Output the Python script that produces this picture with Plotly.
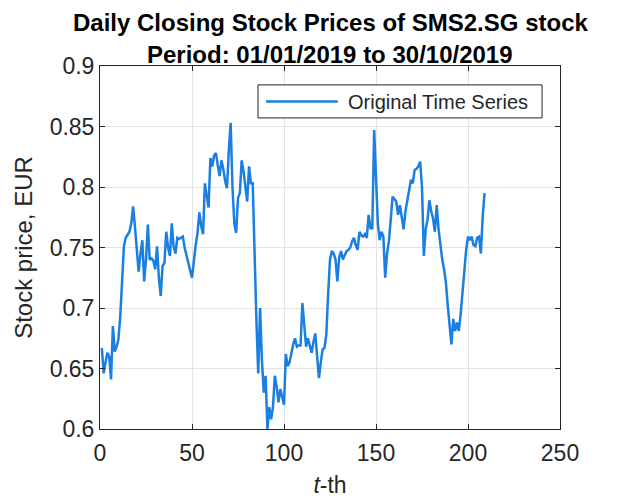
import plotly.graph_objects as go

# ---- data ----
t_index = list(range(1, 210))
prices = [
    0.667, 0.646, 0.655, 0.663, 0.660, 0.641, 0.685, 0.664, 0.668, 0.674,
    0.693, 0.726, 0.751, 0.758, 0.761, 0.763, 0.770, 0.784, 0.767, 0.748,
    0.730, 0.745, 0.756, 0.722, 0.740, 0.769, 0.740, 0.741, 0.739, 0.732,
    0.751, 0.725, 0.710, 0.735, 0.737, 0.763, 0.750, 0.743, 0.770, 0.751,
    0.745, 0.758, 0.757, 0.758, 0.759, 0.750, 0.743, 0.738, 0.731, 0.725,
    0.740, 0.752, 0.762, 0.779, 0.768, 0.761, 0.803, 0.792, 0.783, 0.824,
    0.817, 0.826, 0.828, 0.818, 0.809, 0.822, 0.815, 0.805, 0.799, 0.830,
    0.853, 0.800, 0.770, 0.762, 0.791, 0.795, 0.822, 0.813, 0.800, 0.788,
    0.817, 0.803, 0.803, 0.740, 0.690, 0.646, 0.700, 0.657, 0.630, 0.644,
    0.600, 0.618, 0.608, 0.618, 0.644, 0.635, 0.622, 0.633, 0.626, 0.620,
    0.662, 0.652, 0.655, 0.663, 0.670, 0.675, 0.668, 0.669, 0.669, 0.704,
    0.685, 0.668, 0.675, 0.670, 0.663, 0.672, 0.679, 0.660, 0.642, 0.655,
    0.666, 0.667, 0.678, 0.712, 0.740, 0.747, 0.745, 0.740, 0.722, 0.742,
    0.747, 0.740, 0.744, 0.747, 0.748, 0.750, 0.755, 0.758, 0.752, 0.748,
    0.763, 0.760, 0.759, 0.761, 0.758, 0.777, 0.766, 0.766, 0.847, 0.800,
    0.770, 0.756, 0.763, 0.759, 0.725, 0.745, 0.755, 0.773, 0.792, 0.790,
    0.788, 0.777, 0.785, 0.775, 0.765, 0.780, 0.790, 0.800, 0.806, 0.803,
    0.814, 0.815, 0.817, 0.821, 0.800, 0.743, 0.765, 0.773, 0.789, 0.780,
    0.774, 0.763, 0.785, 0.765, 0.750, 0.740, 0.732, 0.721, 0.702, 0.683,
    0.670, 0.691, 0.681, 0.688, 0.681, 0.695, 0.715, 0.734, 0.748, 0.759,
    0.756, 0.759, 0.752, 0.751, 0.758, 0.759, 0.745, 0.776, 0.795,
]

x_tick_vals = [0, 50, 100, 150, 200, 250]
x_tick_text = ["0", "50", "100", "150", "200", "250"]
y_tick_vals = [0.6, 0.65, 0.7, 0.75, 0.8, 0.85, 0.9]
y_tick_text = ["0.6", "0.65", "0.7", "0.75", "0.8", "0.85", "0.9"]

series_name = "Original Time Series"
title_line1 = "Daily Closing Stock Prices of SMS2.SG stock"
title_line2 = "Period: 01/01/2019 to 30/10/2019"

LINE_COLOR = "#1a7fe0"
AX_COLOR = "#262626"
FONT = "Liberation Sans, Arial, sans-serif"

fig = go.Figure()
fig.add_trace(go.Scatter(
    x=t_index, y=prices, mode="lines", name=series_name,
    line=dict(color=LINE_COLOR, width=2.5), showlegend=False,
))

axis_common = dict(
    showline=True, linecolor=AX_COLOR, linewidth=1, mirror="allticks",
    ticks="inside", ticklen=5, tickcolor=AX_COLOR, tickwidth=1,
    showgrid=True, gridcolor="#e3e3e3", gridwidth=1, zeroline=False,
    automargin=False,
    tickfont=dict(family=FONT, size=23, color=AX_COLOR),
)

# page body has an 8px margin, so the figure is shrunk/offset to keep the
# plot area at the reference position
fig.update_layout(
    width=609, height=491,
    margin=dict(l=92, r=57, t=58, b=70),
    paper_bgcolor="white", plot_bgcolor="white",
    font=dict(family=FONT, color=AX_COLOR),
    xaxis=dict(range=[0, 250], tickvals=x_tick_vals, ticktext=x_tick_text,
               ticklabelstandoff=3,
               title=dict(text="<i>t</i>-th", font=dict(family=FONT, size=23, color=AX_COLOR), standoff=12),
               **axis_common),
    yaxis=dict(range=[0.6, 0.9], tickvals=y_tick_vals, ticktext=y_tick_text,
               title=dict(text="Stock price, EUR", font=dict(family=FONT, size=24, color=AX_COLOR), standoff=10),
               **axis_common),
)

# titles
fig.add_annotation(text="<b>" + title_line1 + "</b>", xref="paper", yref="paper",
                   x=0.5, y=(429 - 22) / 363, xanchor="center", yanchor="middle",
                   showarrow=False, font=dict(family=FONT, size=24, color="black"))
fig.add_annotation(text="<b>" + title_line2 + "</b>", xref="paper", yref="paper",
                   x=0.5, y=(429 - 54) / 363, xanchor="center", yanchor="middle",
                   showarrow=False, font=dict(family=FONT, size=24, color="black"))

# legend box (MATLAB style)
fig.add_shape(type="rect", xref="paper", yref="paper",
              x0=0.3435, x1=0.961, y0=0.857, y1=0.948,
              line=dict(color=AX_COLOR, width=1), fillcolor="white", layer="above")
fig.add_shape(type="line", xref="paper", yref="paper",
              x0=0.361, x1=0.517, y0=0.902, y1=0.902,
              line=dict(color=LINE_COLOR, width=2.5), layer="above")
fig.add_annotation(text=series_name, xref="paper", yref="paper",
                   x=0.535, y=0.902, xanchor="left", yanchor="middle",
                   showarrow=False, font=dict(family=FONT, size=20, color=AX_COLOR))

fig.write_html("out.html")
